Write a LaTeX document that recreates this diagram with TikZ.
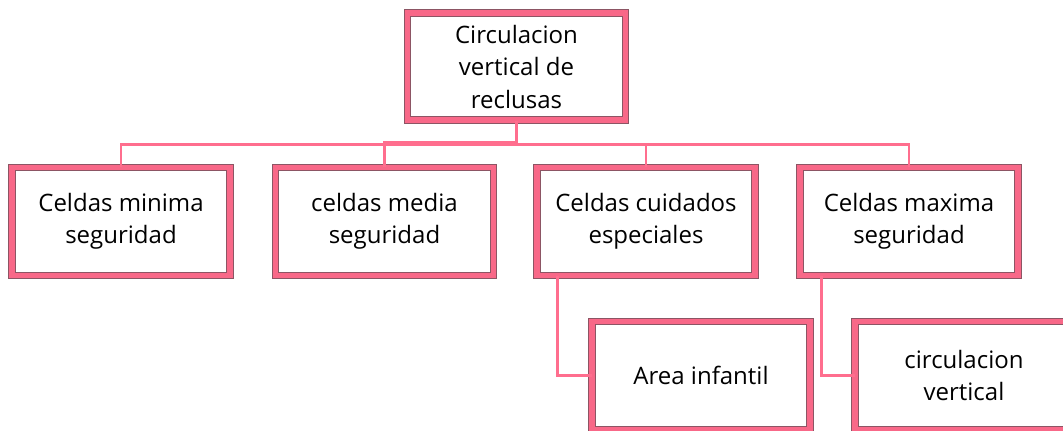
\documentclass[tikz,border=0pt]{standalone}
\usepackage{fontspec}
\setmainfont{Open Sans}
\usepackage{xcolor}
\usetikzlibrary{positioning, calc}

\definecolor{rosaborde}{RGB}{248,104,136}
\definecolor{rosalinea}{RGB}{255,110,142}
\definecolor{bordeoscuro}{RGB}{140,85,100}

\begin{document}
\begin{tikzpicture}[x=1pt, y=-1pt,
    caja/.style={draw=bordeoscuro, line width=1pt, double=rosaborde, double distance=5.5pt,
        fill=white, minimum width=218pt, minimum height=108pt, align=center,
        font=\fontsize{24}{32.5}\selectfont, text=black},
    conector/.style={draw=rosalinea, line width=2.4pt}]
    \clip (0,0) rectangle (1063,431);
    \fill[white] (0,0) rectangle (1063,431);

    % Top box
    \node[caja, minimum height=107pt] (top) at (516.5,66.5) {Circulacion\\vertical de\\reclusas};

    % Second row
    \node[caja] (c1) at (121,221.5) {Celdas minima\\seguridad};
    \node[caja] (c2) at (384.5,221.5) {celdas media\\seguridad};
    \node[caja] (c3) at (646,221.5) {Celdas cuidados\\especiales};
    \node[caja] (c4) at (909,221.5) {Celdas maxima\\seguridad};

    % Third row
    \node[caja] (area) at (701,375.5) {Area infantil};
    \node[caja] (circ) at (964,375.5) {circulacion\\vertical};

    % Connectors
    \coordinate (bus) at (516.5,144.5);
    \coordinate (bus2) at (516.5,142);
    \draw[conector] (top.south) -- (bus);
    \draw[conector] (bus) -| (c1.north);
    \draw[conector] (bus2) -| (c2.north);
    \draw[conector] (bus) -| (c3.north);
    \draw[conector] (bus) -| (c4.north);
    \draw[conector] ($(c3.south west)+(21,0)$) |- (area.west);
    \draw[conector] ($(c4.south west)+(22,0)$) |- (circ.west);
\end{tikzpicture}
\end{document}
